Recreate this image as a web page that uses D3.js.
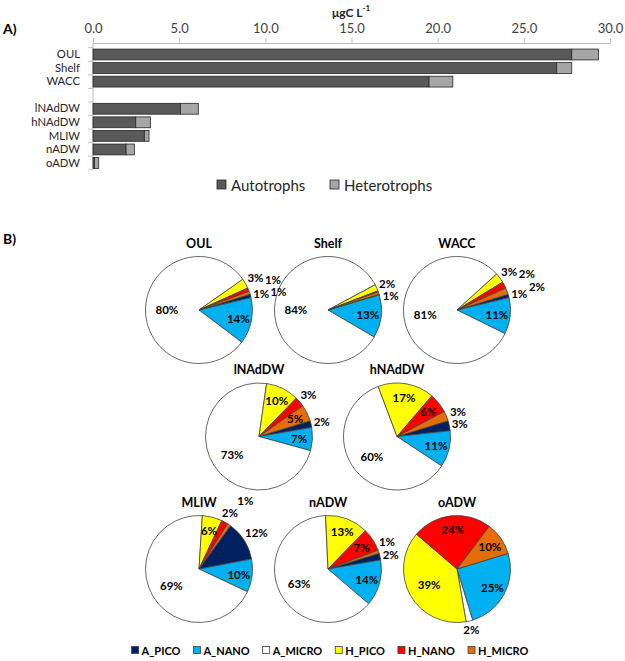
<!DOCTYPE html>
<html><head><meta charset="utf-8">
<script src="https://cdn.jsdelivr.net/npm/d3@7"></script>
<style>body{margin:0;background:#fff} text{font-family:Lato,"Open Sans",sans-serif}</style>
</head><body><svg id="c" width="625" height="661"></svg>
<script>
// ---------- Panel A data ----------
const barCategories = ["OUL","Shelf","WACC"," ","lNAdDW","hNAdDW","MLIW","nADW","oADW"];
const autotrophs   = [27.78, 26.91, 19.50, 0, 5.07, 2.48, 2.98, 1.92, 0.08];
const heterotrophs = [1.55, 0.87, 1.38, 0, 1.04, 0.85, 0.27, 0.48, 0.25];
const barSeries = ["Autotrophs","Heterotrophs"];
const xTicks = [0,5,10,15,20,25,30];

// ---------- Panel B data (% of carbon biomass) ----------
const pieNames = ["OUL","Shelf","WACC","lNAdDW","hNAdDW","MLIW","nADW","oADW"];
const groups   = ["A_PICO","A_NANO","A_MICRO","H_PICO","H_NANO","H_MICRO"];
const A_PICO  = [1, 0.2, 1, 2, 3, 12, 2, 0];
const A_NANO  = [14, 13, 11, 7, 11, 10, 14, 25];
const A_MICRO = [80, 84, 81, 73, 60, 69, 63, 2];
const H_PICO  = [3, 2, 3, 10, 17, 6, 13, 39];
const H_NANO  = [1, 0.3, 2, 3, 6, 2, 7, 24];
const H_MICRO = [1, 0.8, 2, 5, 3, 1, 1, 10];
const pieStartDeg = [73, 73, 73, 73, 73, 36, 73, 73];
const pieRows = [[0,1,2],[3,4],[5,6,7]];

const svg = d3.select("#c");
svg.append("rect").attr("width",625).attr("height",661).attr("fill","#fff");

// ================= Panel A =================
const x = d3.scaleLinear().domain([0,30]).range([93,610]);
const y = d3.scaleBand().domain(barCategories).range([47.7,169.8]).paddingInner(0.2).paddingOuter(0.1);
const barFill = {Autotrophs:"#595959", Heterotrophs:"#a6a6a6"};

svg.append("text").attr("x",3).attr("y",28).attr("dominant-baseline","central")
  .attr("font-weight","bold").attr("font-size",14).attr("fill","#000").text("A)");

const title = svg.append("text").attr("x",351).attr("y",12).attr("text-anchor","middle")
  .attr("dominant-baseline","central").attr("font-weight","bold").attr("font-size",12).attr("fill","#262626");
title.append("tspan").text("\u03BCgC L");
title.append("tspan").attr("dy",-4).attr("font-size",8).text("-1");

const gx = svg.append("g").attr("transform","translate(0,43)")
  .call(d3.axisTop(x).tickValues(xTicks).tickFormat(d3.format(".1f")).tickSize(5).tickSizeOuter(0).tickPadding(5));
gx.select(".domain").attr("stroke","#bfbfbf");
gx.selectAll(".tick line").attr("stroke","#bfbfbf");
gx.selectAll(".tick text").attr("font-size",13).attr("fill","#404040").attr("font-family","Lato");

const gy = svg.append("g").attr("transform","translate(93,0)")
  .call(d3.axisLeft(y).tickSize(0).tickPadding(13));
gy.select(".domain").attr("d","M0,43V"+y.range()[1]).attr("stroke","#bfbfbf");
gy.selectAll(".tick text").attr("font-size",11.3).attr("fill","#262626").attr("font-family","Lato");
const bounds = barCategories.map(c => y(c) - y.step()*0.1).concat([y.range()[1]]);
gy.selectAll(".bt").data(bounds).enter().append("line").attr("class","bt")
  .attr("x1",-5).attr("x2",0).attr("y1",d=>d).attr("y2",d=>d).attr("stroke","#bfbfbf");

const barRows = barCategories.map((c,i)=>({c, a:autotrophs[i], h:heterotrophs[i]})).filter(d=>d.a+d.h>0);
svg.append("g").selectAll("rect.a").data(barRows).enter().append("rect")
  .attr("x",x(0)).attr("y",d=>y(d.c)).attr("width",d=>x(d.a)-x(0)).attr("height",y.bandwidth())
  .attr("fill",barFill.Autotrophs).attr("stroke","#262626").attr("stroke-width",0.8);
svg.append("g").selectAll("rect.h").data(barRows).enter().append("rect")
  .attr("x",d=>x(d.a)).attr("y",d=>y(d.c)).attr("width",d=>x(d.a+d.h)-x(d.a)).attr("height",y.bandwidth())
  .attr("fill",barFill.Heterotrophs).attr("stroke","#262626").attr("stroke-width",0.8);

const legA = svg.append("g");
const legAX = [217, 330];
barSeries.forEach((s,i)=>{
  legA.append("rect").attr("x",legAX[i]).attr("y",180).attr("width",9).attr("height",9)
    .attr("fill",barFill[s]).attr("stroke","#262626").attr("stroke-width",0.8);
  legA.append("text").attr("x",legAX[i]+14).attr("y",185).attr("dominant-baseline","central")
    .attr("font-size",15).attr("fill","#262626").text(s);
});

// ================= Panel B =================
svg.append("text").attr("x",3).attr("y",238).attr("dominant-baseline","central")
  .attr("font-weight","bold").attr("font-size",14).attr("fill","#000").text("B)");

const series = [A_PICO, A_NANO, A_MICRO, H_PICO, H_NANO, H_MICRO];
const pieColor = d3.scaleOrdinal().domain(groups)
  .range(["#002060","#00b0f0","#ffffff","#ffff00","#ff0000","#e46c0a"]);
const R = 53.5;
const rowY = [310, 436.5, 569];
const colSpacing = {3:129, 2:138};
const arc = d3.arc().innerRadius(0).outerRadius(R);
const pieLayer = svg.append("g");
const labelLayer = svg.append("g");

function clamp(v,a,b){return Math.max(a,Math.min(b,v));}
function overlap(p,q){return Math.abs(p.x-q.x) < (p.w+q.w)/2 && Math.abs(p.y-q.y) < (p.h+q.h)/2;}
function clears(x0,y0,w,h){
  const cx = clamp(0,x0-w/2,x0+w/2), cy = clamp(0,y0-h/2,y0+h/2);
  return Math.hypot(cx,cy) >= R+1;
}

pieRows.forEach((row, ri) => row.forEach((pi, ci) => {
  const cx = 328 + (ci - (row.length-1)/2) * colSpacing[row.length];
  const cy = rowY[ri];
  const g = pieLayer.append("g").attr("transform",`translate(${cx},${cy})`);
  const lg = labelLayer.append("g").attr("transform",`translate(${cx},${cy})`);
  const s0 = pieStartDeg[pi] * Math.PI/180;
  const vals = groups.map((gname,k)=>({g:gname, v:series[k][pi]}));
  const total = d3.sum(vals, d=>d.v);
  const arcs = d3.pie().sort(null).value(d=>d.v).startAngle(s0).endAngle(s0+2*Math.PI)(vals);

  g.selectAll("path").data(arcs.filter(a=>a.data.v>0)).enter().append("path")
    .attr("d",arc).attr("fill",a=>pieColor(a.data.g))
    .attr("stroke","#404040").attr("stroke-width",0.8).attr("stroke-linejoin","round");

  lg.append("text").attr("x",0).attr("y",-67).attr("text-anchor","middle")
    .attr("dominant-baseline","central").attr("font-weight","bold").attr("font-size",12.5)
    .attr("fill","#000").text(pieNames[pi]);

  const placed = [];
  const outside = [];
  arcs.forEach(a=>{
    const pct = Math.round(a.data.v/total*100);
    if (pct < 1) return;
    const t = lg.append("text").attr("text-anchor","middle").attr("dominant-baseline","central")
      .attr("font-weight","bold").attr("font-size",11.5).attr("fill","#000").text(pct+"%");
    const w = t.node().getComputedTextLength()+1, h = 12;
    const mid = (a.startAngle+a.endAngle)/2;
    if (pct >= 5 && a.data.g !== "A_PICO") {
      const f = pct >= 30 ? 0.6 : 0.75;
      const px = Math.sin(mid)*R*f, py = -Math.cos(mid)*R*f;
      t.attr("x",px).attr("y",py);
      placed.push({x:px,y:py,w,h});
    } else outside.push({t,w,h,mid});
  });
  outside.forEach(o=>{
    let best=null;
    for (let da=-25; da<=25; da+=1){
      const ang = o.mid + da*Math.PI/180;
      const sx = Math.sin(ang), sy = -Math.cos(ang);
      let dmin = R;
      while (!clears(sx*dmin, sy*dmin, o.w, o.h) && dmin < R+60) dmin += 0.5;
      for (let dd=0; dd<=35; dd+=1){
        const p = {x:sx*(dmin+dd), y:sy*(dmin+dd), w:o.w, h:o.h};
        if (placed.some(q=>overlap(p,q))) continue;
        const cost = Math.abs(da) + dd*0.5;
        if (!best || cost < best.cost) best = {cost, p};
        break;
      }
    }
    if (best){ o.t.attr("x",best.p.x).attr("y",best.p.y); placed.push(best.p); }
  });
}));

// legend B
const legB = svg.append("g");
const items = groups.map(gname=>{
  const t = legB.append("text").attr("dominant-baseline","central").attr("font-weight","bold")
    .attr("font-size",11).attr("fill","#000").text(gname);
  return {gname, t, w:t.node().getComputedTextLength()};
});
const sq = 7, gapSq = 3, gapItem = 13;
const totalW = d3.sum(items, d=>sq+gapSq+d.w) + gapItem*(items.length-1);
let lx = 330 - totalW/2;
const ly = 650;
items.forEach(it=>{
  legB.append("rect").attr("x",lx).attr("y",ly-sq/2).attr("width",sq).attr("height",sq)
    .attr("fill",pieColor(it.gname)).attr("stroke","#404040").attr("stroke-width",0.8);
  it.t.attr("x",lx+sq+gapSq).attr("y",ly);
  lx += sq+gapSq+it.w+gapItem;
});
</script></body></html>
